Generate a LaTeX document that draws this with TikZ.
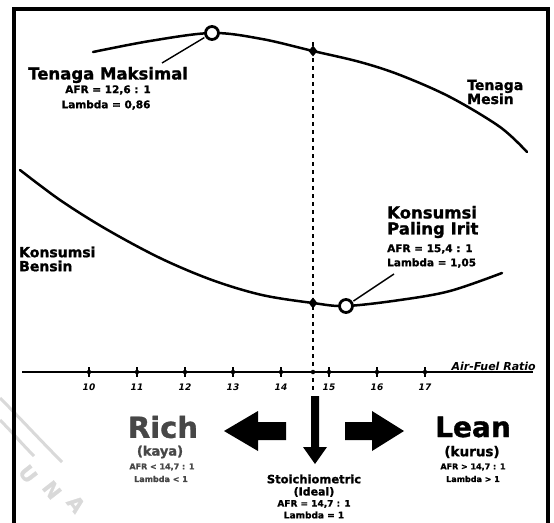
\documentclass[tikz,border=0pt]{standalone}
\usepackage{fontspec}
\setmainfont[BoldFeatures={FakeBold=1.2}]{DejaVu Sans}
\usetikzlibrary{shapes.geometric}
\begin{document}
\begin{tikzpicture}[x=1pt,y=-1pt,
  lbl/.style={inner sep=0pt, align=center},
  big/.style={lbl, font={\fontsize{16.5}{18}\selectfont\bfseries}},
  mid/.style={lbl, font={\fontsize{14}{16}\selectfont\bfseries}},
  small/.style={lbl, font={\fontsize{10.5}{12}\selectfont\bfseries}},
  tiny/.style={lbl, font={\fontsize{8}{9}\selectfont\bfseries}},
  ticklbl/.style={lbl, font={\fontsize{9}{10}\selectfont\bfseries\itshape}},
  ring/.style={circle, draw, line width=2.8pt, minimum size=13pt, inner sep=0pt, fill=white},
  dmd/.style={diamond, fill, minimum width=9pt, minimum height=11pt, inner sep=0pt},
  tickdot/.style={circle, fill, minimum size=4.5pt, inner sep=0pt},
  curve/.style={line width=2.5pt, line cap=round},
  pointer/.style={line width=1.4pt, shorten >=1pt},
  wm/.style={gray!30},
  wmletter/.style={wm, inner sep=0pt, rotate=-52, font={\fontsize{20}{20}\selectfont\bfseries}},
]
\useasboundingbox (0,0) rectangle (554,522);
\fill[white] (0,0) rectangle (554,522);
\clip (0,0) rectangle (554,522);

% watermark (faint)
\draw[wm, line width=3pt] (0,398) .. controls (20,418) and (40,440) .. (62,462);
\draw[wm, line width=3pt] (0,420) .. controls (12,432) and (22,444) .. (34,456);
\node[wmletter] (wmu) at (28,474) {U};
\node[wmletter] (wmn) at (52,490) {N};
\node[wmletter] (wma) at (76,504) {A};

% frame
\draw[line width=4pt] (14,560) -- (14,9) -- (548,9) -- (548,560);

% dashed stoichiometric line
\coordinate (dtop) at (313,42);
\coordinate (dbot) at (313,390);
\draw[line width=1.3pt, dash pattern=on 4pt off 4pt] (dtop) -- (dbot);

% engine power curve
\draw[curve] plot[smooth, tension=0.55] coordinates {(93,52) (150,41) (212,33) (262,39) (313,51) (360,62) (400,75) (450,97) (500,127) (527,152)};
% fuel consumption curve
\draw[curve] plot[smooth, tension=0.55] coordinates {(20,170) (60,200) (106,229) (160,258) (212,280) (262,295) (313,303) (346,306) (400,300) (450,291) (502,273)};

% markers
\node[ring] (pmax) at (212,33) {};
\node[dmd] (pst) at (313,51) {};
\node[dmd] (cst) at (313,303) {};
\node[ring] (cmin) at (346,306) {};

% labels top
\node[big, anchor=west] (tm) at (28,75) {Tenaga Maksimal};
\node[small] (tmafr) at (108,90) {AFR = 12,6 : 1};
\node[small] (tmlam) at (106,105) {Lambda = 0,86};
\coordinate (tmp) at (162,63);
\draw[pointer] (tmp) -- (pmax);

\node[mid, anchor=west, align=left] (tms) at (467,92) {Tenaga\\[-2pt]Mesin};

\node[big, anchor=west, align=left] (kpi) at (387,222) {Konsumsi\\[-2pt]Paling Irit};
\node[small, anchor=west] (kpiafr) at (387,249) {AFR = 15,4 : 1};
\node[small, anchor=west] (kpilam) at (387,263) {Lambda = 1,05};
\coordinate (kpp) at (394,274);
\draw[pointer] (kpp) -- (cmin);

\node[mid, anchor=west, align=left] (kb) at (19,259) {Konsumsi\\[-2pt]Bensin};

% axis
\coordinate (axl) at (22,372);
\coordinate (axr) at (533,372);
\draw[line width=2pt] (axl) -- (axr);
\foreach \n in {10,...,17} {
  \pgfmathsetmacro{\xx}{89+48*(\n-10)}
  \node[tickdot] (t\n) at (\xx,372) {};
  \draw[line width=1.5pt] (\xx,367) -- (\xx,377);
  \node[ticklbl] (l\n) at (\xx,387) {\n};
}
\node[tickdot] (t147) at (313,372) {};
\node[lbl, font={\fontsize{11}{12}\selectfont\bfseries\itshape}, anchor=south east] (afr) at (536,371) {Air-Fuel Ratio};

% arrows
\fill (224,431) -- (258,411) -- (258,422) -- (286,422) -- (286,440) -- (258,440) -- (258,451) -- cycle;
\fill (345,422) -- (372,422) -- (372,411) -- (404,431) -- (372,451) -- (372,440) -- (345,440) -- cycle;
\fill (311,396) -- (319,396) -- (319,447) -- (327,447) -- (315,464) -- (303,447) -- (311,447) -- cycle;

% Rich
\node[lbl, text=black!72, font={\fontsize{29}{30}\selectfont\bfseries}] (rich) at (163,427) {Rich};
\node[lbl, text=black!72, font={\fontsize{13}{14}\selectfont\bfseries}] (kaya) at (160,452) {(kaya)};
\node[tiny, text=black!72] (rafr) at (162,467) {AFR < 14,7 : 1};
\node[tiny, text=black!72] (rlam) at (161,479) {Lambda < 1};

% Lean
\node[lbl, font={\fontsize{28}{30}\selectfont\bfseries}] (lean) at (473,427) {Lean};
\node[lbl, font={\fontsize{13.5}{14}\selectfont\bfseries}] (kurus) at (472,452) {(kurus)};
\node[tiny] (lafr) at (473,467) {AFR > 14,7 : 1};
\node[tiny] (llam) at (473,479) {Lambda > 1};

% Stoichiometric
\node[lbl, font={\fontsize{11.5}{12}\selectfont\bfseries}] (st) at (314,479) {Stoichiometric};
\node[lbl, font={\fontsize{11}{12}\selectfont\bfseries}] (ideal) at (314,492) {(Ideal)};
\node[lbl, font={\fontsize{9}{10}\selectfont\bfseries}] (safr) at (314,504) {AFR = 14,7 : 1};
\node[lbl, font={\fontsize{9}{10}\selectfont\bfseries}] (slam) at (314,515) {Lambda = 1};
\end{tikzpicture}
\end{document}
